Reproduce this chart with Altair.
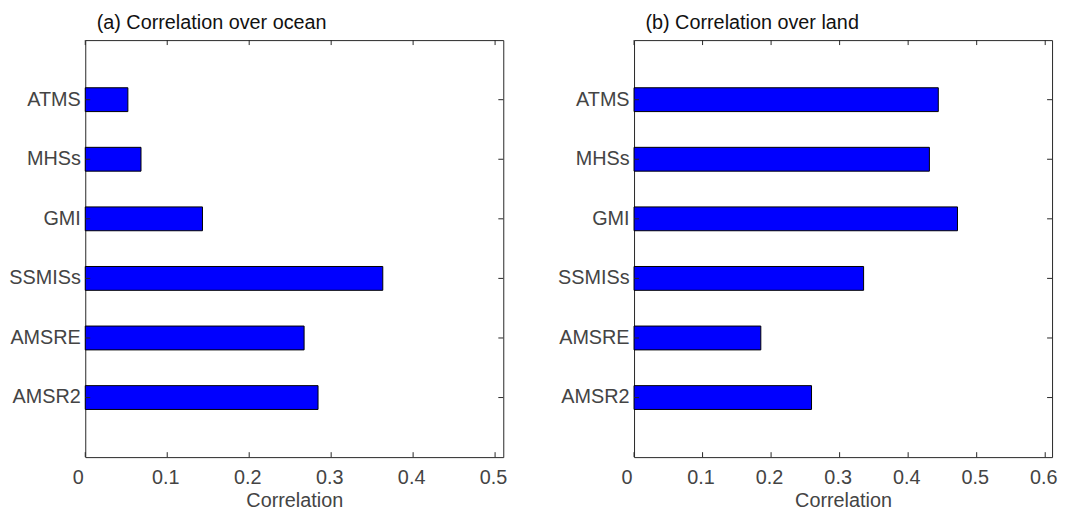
import altair as alt
import pandas as pd

sensors = ["ATMS", "MHSs", "GMI", "SSMISs", "AMSRE", "AMSR2"]
ocean_corr = [0.052, 0.068, 0.143, 0.363, 0.267, 0.284]
land_corr = [0.444, 0.431, 0.472, 0.335, 0.185, 0.259]
ocean_ticks = [0, 0.1, 0.2, 0.3, 0.4, 0.5]
land_ticks = [0, 0.1, 0.2, 0.3, 0.4, 0.5, 0.6]
ocean_max = 0.51
land_max = 0.61
panel_titles = ["(a) Correlation over ocean", "(b) Correlation over land"]
x_title = "Correlation"

W, H = 422, 421
FONT = "Liberation Sans"
FS = 20
LABEL = "#444444"
AXIS = "#262626"
TICK = 5


def panel(values, ticks, xmax, title):
    bars_df = pd.DataFrame({"sensor": sensors, "value": values})
    ticks_df = pd.DataFrame({"value": ticks})
    cats_df = pd.DataFrame({"sensor": sensors})
    xscale = alt.Scale(domain=[0, xmax], nice=False, zero=True)
    yscale = alt.Scale(paddingInner=0.6, paddingOuter=0.8)
    xaxis = alt.Axis(
        values=ticks, format="~g", title=x_title, ticks=False, domain=False,
        grid=False, labelFlush=False, labelOverlap=False, labelPadding=10.5,
        labelOffset=-2,
        labelAlign={"condition": {"test": "datum.value === 0", "value": "right"}, "value": "center"},
        titlePadding=3,
    )
    yaxis = alt.Axis(title=None, ticks=False, domain=False, grid=False,
                     labelPadding=5, labelOverlap=False)
    x = alt.X("value:Q", scale=xscale, axis=xaxis)
    y = alt.Y("sensor:N", scale=yscale, axis=yaxis, sort=sensors)

    bars = alt.Chart(bars_df).mark_bar(
        color="#0000ff", stroke="#000000", strokeWidth=1
    ).encode(x=x, y=y)
    rule = dict(color=AXIS, strokeWidth=1)
    xt_bottom = alt.Chart(ticks_df).mark_rule(**rule).encode(
        x=x, y=alt.value(H), y2=alt.value(H - TICK))
    xt_top = alt.Chart(ticks_df).mark_rule(**rule).encode(
        x=x, y=alt.value(0), y2=alt.value(TICK))
    yt_left = alt.Chart(cats_df).mark_rule(**rule).encode(
        y=y, x=alt.value(0), x2=alt.value(TICK))
    yt_right = alt.Chart(cats_df).mark_rule(**rule).encode(
        y=y, x=alt.value(W), x2=alt.value(W - TICK))
    return alt.layer(bars, xt_bottom, xt_top, yt_left, yt_right).properties(
        width=W, height=H,
        title=alt.TitleParams(
            title, anchor="start", frame="group", dx=11.5, offset=6.5,
            fontSize=FS, font=FONT, color="#111111", fontWeight="normal"),
    )


left = panel(ocean_corr, ocean_ticks, ocean_max, panel_titles[0])
right = panel(land_corr, land_ticks, land_max, panel_titles[1])

chart = alt.hconcat(left, right, spacing=49).properties(
    padding={"left": 0, "top": 2, "right": 0, "bottom": 0}
).configure_view(
    stroke=AXIS, strokeWidth=1
).configure_axis(
    labelFont=FONT, labelFontSize=FS, labelColor=LABEL,
    titleFont=FONT, titleFontSize=FS, titleColor=LABEL, titleFontWeight="normal",
)

chart.save("out.html", embed_options={"renderer": "svg", "actions": False})
